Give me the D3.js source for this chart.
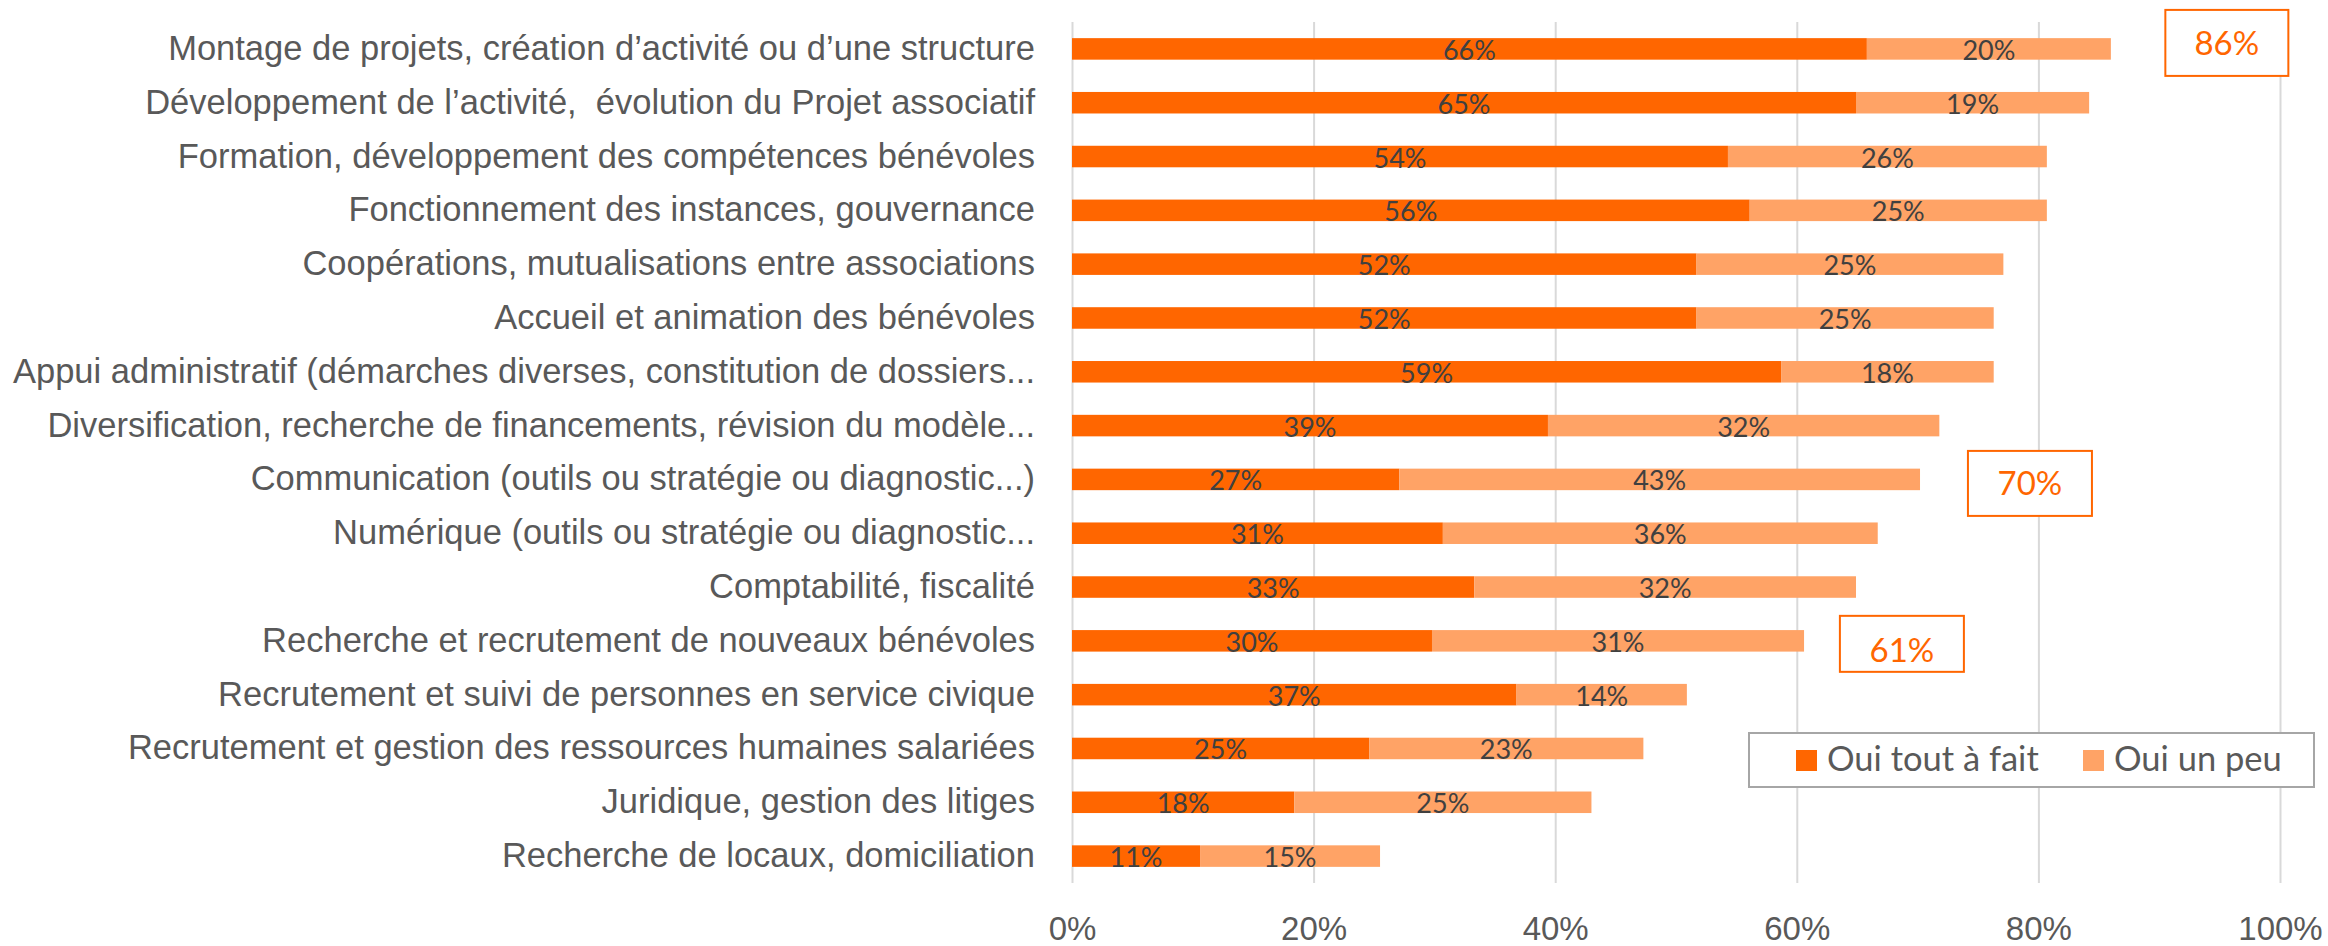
<!DOCTYPE html>
<html>
<head>
<meta charset="utf-8">
<script src="https://cdn.jsdelivr.net/npm/d3@7"></script>
<style>
  html, body { margin: 0; padding: 0; background: #fff; }
  svg { display: block; font-family: Lato, "Open Sans", sans-serif; }
</style>
</head>
<body>
<svg id="chart" width="2328" height="946"></svg>
<script>
// categories, top to bottom
const categories = [
  "Montage de projets, création d’activité ou d’une structure",
  "Développement de l’activité,  évolution du Projet associatif",
  "Formation, développement des compétences bénévoles",
  "Fonctionnement des instances, gouvernance",
  "Coopérations, mutualisations entre associations",
  "Accueil et animation des bénévoles",
  "Appui administratif (démarches diverses, constitution de dossiers...",
  "Diversification, recherche de financements, révision du modèle...",
  "Communication (outils ou stratégie ou diagnostic...)",
  "Numérique (outils ou stratégie ou diagnostic...",
  "Comptabilité, fiscalité",
  "Recherche et recrutement de nouveaux bénévoles",
  "Recrutement et suivi de personnes en service civique",
  "Recrutement et gestion des ressources humaines salariées",
  "Juridique, gestion des litiges",
  "Recherche de locaux, domiciliation"
];
// values in %
const ouiToutAFait = [65.8, 64.9, 54.3, 56.1, 51.7, 51.7, 58.7, 39.4, 27.1, 30.7, 33.3, 29.8, 36.8, 24.6, 18.4, 10.6];
const ouiUnPeu     = [20.2, 19.3, 26.4, 24.6, 25.4, 24.6, 17.6, 32.4, 43.1, 36.0, 31.6, 30.8, 14.1, 22.7, 24.6, 14.9];
const seriesNames = ["Oui tout à fait", "Oui un peu"];
const xTicks = [0, 20, 40, 60, 80, 100];
// rows that get a boxed total
const calloutRows = [0, 8, 11];

const colors = ["#FF6600", "#FFA366"];

// layout
const margin = { left: 1072, right: 48, top: 22, bottom: 63 };
const W = 2328, H = 946;
const plotW = W - margin.left - margin.right;
const plotH = H - margin.top - margin.bottom;

const svg = d3.select("#chart");
const g = svg.append("g").attr("transform", `translate(${margin.left},${margin.top})`);

const x = d3.scaleLinear().domain([0, 100]).range([0, plotW]);
const y = d3.scaleBand().domain(categories).range([0, plotH]).paddingInner(0.6).paddingOuter(0.3);

// gridlines + ticks
const xAxis = g.append("g")
  .attr("transform", `translate(0,${plotH})`)
  .call(d3.axisBottom(x).tickValues(xTicks).tickFormat(d => d + "%").tickSize(-plotH).tickPadding(0));
xAxis.select(".domain").remove();
xAxis.selectAll(".tick line").attr("stroke", "#d9d9d9").attr("stroke-width", 2);
xAxis.selectAll(".tick text")
  .attr("y", 57).attr("dy", null)
  .attr("fill", "#595959").style("font-size", "33px");

// category labels
const yAxis = g.append("g")
  .call(d3.axisLeft(y).tickSize(0).tickPadding(37));
yAxis.select(".domain").remove();
yAxis.selectAll(".tick text")
  .attr("dy", null).attr("y", 11)
  .style("white-space", "pre")
  .attr("fill", "#595959").style("font-size", "34.5px");

// stacked data
const rows = categories.map((c, i) => ({ cat: c, a: ouiToutAFait[i], b: ouiUnPeu[i] }));
const stack = d3.stack().keys(["a", "b"])(rows);

const fmt = v => Math.round(v) + "%";

stack.forEach((layer, li) => {
  g.append("g").selectAll("rect").data(layer).join("rect")
    .attr("x", d => x(d[0]))
    .attr("y", d => y(d.data.cat))
    .attr("width", d => x(d[1]) - x(d[0]))
    .attr("height", y.bandwidth())
    .attr("fill", colors[li]);

  g.append("g").selectAll("text").data(layer).join("text")
    .attr("x", d => (x(d[0]) + x(d[1])) / 2)
    .attr("y", d => y(d.data.cat) + y.bandwidth() / 2 + 11)
    .attr("text-anchor", "middle")
    .attr("fill", "#404040")
    .style("font-size", "27px")
    .text(d => fmt(d[1] - d[0]));
});

// boxed totals (manually placed in the original)
const calloutPos = [
  { cx: 95.6, dy: -6, w: 123, h: 66 },
  { cx: 79.3, dy: 4, w: 124, h: 65 },
  { cx: 68.7, dy: 3, w: 124, h: 56 }
];
calloutRows.forEach((r, i) => {
  const p = calloutPos[i];
  const cx = x(p.cx);
  const cy = y(categories[r]) + y.bandwidth() / 2 + p.dy;
  const total = ouiToutAFait[r] + ouiUnPeu[r];
  g.append("rect")
    .attr("x", cx - p.w / 2).attr("y", cy - p.h / 2)
    .attr("width", p.w).attr("height", p.h)
    .attr("fill", "#fff").attr("stroke", "#FF6600").attr("stroke-width", 2);
  g.append("text")
    .attr("x", cx).attr("y", cy + 12 + (i === 2 ? 6 : 0))
    .attr("text-anchor", "middle")
    .attr("fill", "#FF6600")
    .style("font-size", "33px")
    .text(fmt(total));
});

// legend
const legend = svg.append("g").attr("transform", "translate(1749,733)");
legend.append("rect")
  .attr("width", 565).attr("height", 54)
  .attr("fill", "#fff").attr("stroke", "#a6a6a6").attr("stroke-width", 2);
const legendX = [47, 334];
seriesNames.forEach((s, i) => {
  const item = legend.append("g").attr("transform", `translate(${legendX[i]},0)`);
  item.append("rect").attr("x", 0).attr("y", 17).attr("width", 21).attr("height", 21).attr("fill", colors[i]);
  item.append("text").attr("x", 31).attr("y", 38)
    .attr("fill", "#595959").style("font-size", "34.5px").text(s);
});
</script>
</body>
</html>
